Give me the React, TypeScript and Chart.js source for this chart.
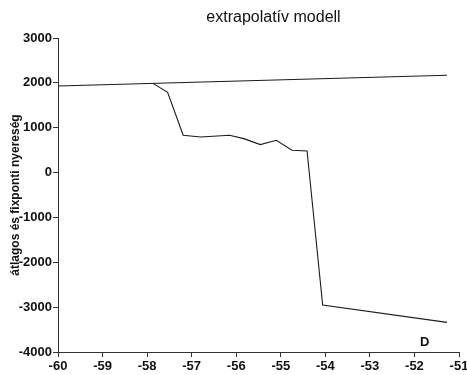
import React, { useEffect, useRef } from "react";
import { Chart, registerables } from "chart.js";

Chart.register(...registerables);

const upperX = [-60, -51.27];
const upperY = [1930, 2170];

const lowerX = [-57.87, -57.54, -57.19, -56.8, -56.15, -55.83, -55.46, -55.1, -54.75, -54.41, -54.06, -51.27];
const lowerY = [1988, 1788, 831, 793, 831, 757, 623, 719, 497, 481, -2955, -3340];

const titleText = "extrapolatív modell";
const yAxisTitle = "átlagos és fixponti nyereség";
const panelLabel = "D";

const FONT = "'Liberation Sans', Arial, sans-serif";

export default function App() {
  const ref = useRef<HTMLCanvasElement | null>(null);

  useEffect(() => {
    if (!ref.current) return;
    const toPts = (xs: number[], ys: number[]) => xs.map((x, i) => ({ x, y: ys[i] }));

    const textPlugin = {
      id: "texts",
      afterDraw(chart: any) {
        const { ctx, chartArea } = chart;
        ctx.save();
        ctx.fillStyle = "#111";
        ctx.textAlign = "center";
        ctx.textBaseline = "middle";
        ctx.font = `16px ${FONT}`;
        const cx = (chartArea.left + chartArea.right) / 2 + 15;
        ctx.fillText(titleText, cx, chartArea.top - 20);
        ctx.font = `bold 13px ${FONT}`;
        const xs = chart.scales.x;
        const ys = chart.scales.y;
        ctx.fillText(panelLabel, xs.getPixelForValue(-51.77), ys.getPixelForValue(-3780));
        ctx.restore();
      },
    };

    const axisCommon = {
      grid: {
        display: true,
        drawOnChartArea: false,
        drawTicks: true,
        tickLength: 5,
        color: "#333",
        lineWidth: 1,
      },
      border: { display: true, color: "#333", width: 1 },
    };

    const plain = (v: any) => String(v);

    const chart = new Chart(ref.current, {
      type: "scatter",
      data: {
        datasets: [
          {
            data: toPts(upperX, upperY),
            showLine: true,
            borderColor: "#1a1a1a",
            borderWidth: 1.2,
            pointRadius: 0,
            fill: false,
          },
          {
            data: toPts(lowerX, lowerY),
            showLine: true,
            borderColor: "#1a1a1a",
            borderWidth: 1.1,
            pointRadius: 0,
            fill: false,
          },
        ],
      },
      options: {
        responsive: false,
        animation: false,
        layout: { padding: { top: 38, left: 0, right: 8, bottom: 0 } },
        plugins: {
          legend: { display: false },
          title: { display: false },
          tooltip: { enabled: false },
        },
        scales: {
          x: {
            type: "linear",
            min: -60,
            max: -51,
            ...axisCommon,
            ticks: {
              stepSize: 1,
              color: "#111",
              padding: 2,
              maxRotation: 0,
              autoSkip: false,
              callback: plain,
              font: { family: FONT, size: 13, weight: "bold" },
            },
            afterFit(scale: any) {
              scale.height = 23;
              scale.paddingLeft = 0;
              scale.paddingRight = 0;
            },
          },
          y: {
            type: "linear",
            min: -4000,
            max: 3000,
            ...axisCommon,
            ticks: {
              stepSize: 1000,
              color: "#111",
              padding: 1,
              callback: plain,
              font: { family: FONT, size: 13, weight: "bold" },
            },
            title: {
              display: true,
              text: yAxisTitle,
              color: "#111",
              padding: { top: 8, bottom: 0 },
              font: { family: FONT, size: 12, weight: "bold" },
            },
            afterFit(scale: any) {
              scale.width = 58;
            },
          },
        },
      },
      plugins: [textPlugin],
    } as any);

    return () => chart.destroy();
  }, []);

  return (
    <div style={{ position: "fixed", left: 0, top: 0, width: 467, height: 375, background: "#fff" }}>
      <canvas ref={ref} width={467} height={375} style={{ display: "block" }} />
    </div>
  );
}
